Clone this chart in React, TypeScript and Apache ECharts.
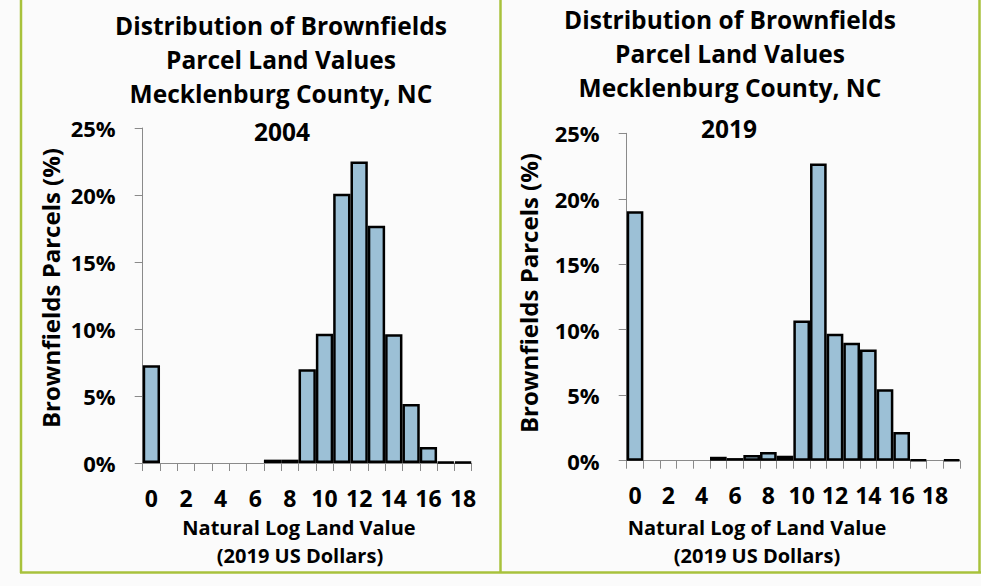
import React, { useEffect, useRef } from 'react';
import * as echarts from 'echarts';

// ---- data ----
const categories2004 = ['0','1','2','3','4','5','6','7','8','9','10','11','12','13','14','15','16','17','18'];
const values2004 = [7.3, 0, 0, 0, 0, 0, 0, 0.25, 0.25, 7.0, 9.65, 20.1, 22.5, 17.7, 9.6, 4.4, 1.2, 0.07, 0.07];
const categories2019 = ['0','1','2','3','4','5','6','7','8','9','10','11','12','13','14','15','16','17','18','19'];
const values2019 = [19.05, 0, 0, 0, 0, 0.3, 0.2, 0.43, 0.66, 0.38, 10.7, 22.7, 9.7, 9.0, 8.5, 5.45, 2.2, 0.05, 0, 0.08];
const titleLines = ['Distribution of Brownfields', 'Parcel Land Values', 'Mecklenburg County, NC'];
const year2004 = '2004';
const year2019 = '2019';
const yAxisTitle = 'Brownfields Parcels (%)';
const xAxisTitle2004 = ['Natural Log Land Value', '(2019 US Dollars)'];
const xAxisTitle2019 = ['Natural Log of Land Value', '(2019 US Dollars)'];
const yMin = 0;
const yMax = 25;
const yStep = 5;

const FONT = '"Open Sans"';
const BAR_FILL = '#9cc0d6';
const AXIS_GRAY = '#8a8a8a';
const FRAME = '#a8c23c';

export default function App() {
  const ref = useRef<HTMLDivElement>(null);
  useEffect(() => {
    document.body.style.margin = '0';
    if (!ref.current) return;
    const chart = echarts.init(ref.current, undefined, { renderer: 'svg' });

    const txt = (text: string, x: number, y: number, size: number, rotation = 0) => ({
      type: 'text',
      x, y, rotation,
      style: {
        text, fill: '#000', font: `bold ${size}px ${FONT}`,
        textAlign: 'center', textVerticalAlign: 'middle',
      },
    });

    const xAxis = (cats: string[], idx: number) => ({
      type: 'category', gridIndex: idx, data: cats,
      boundaryGap: true,
      axisLine: { lineStyle: { color: AXIS_GRAY, width: 1 } },
      axisTick: { show: true, interval: 0, length: 8, lineStyle: { color: AXIS_GRAY } },
      axisLabel: { interval: 1, margin: 23, color: '#000', fontFamily: 'Open Sans', fontWeight: 'bold', fontSize: 23 },
      splitLine: { show: false },
    });
    const yAxis = (idx: number) => ({
      type: 'value', gridIndex: idx, min: yMin, max: yMax, interval: yStep,
      axisLine: { show: true, lineStyle: { color: AXIS_GRAY, width: 1 } },
      axisTick: { show: true, length: 8, lineStyle: { color: AXIS_GRAY } },
      axisLabel: { formatter: '{value}%', margin: 27, color: '#000', fontFamily: 'Open Sans', fontWeight: 'bold', fontSize: 22 },
      splitLine: { show: false },
    });
    const bars = (vals: number[], idx: number) => ({
      type: 'bar', xAxisIndex: idx, yAxisIndex: idx,
      data: vals.map(v => (v === 0 ? '-' : v)),
      barCategoryGap: '0%',
      itemStyle: { color: BAR_FILL, borderColor: '#000', borderWidth: 2.5 },
      emphasis: { disabled: true },
    });

    const graphics: any[] = [];
    graphics.push({ type: 'line', shape: { x1: 21, y1: 0, x2: 21, y2: 573 }, style: { stroke: FRAME, lineWidth: 2.5 } });
    graphics.push({ type: 'line', shape: { x1: 500.5, y1: 0, x2: 500.5, y2: 573 }, style: { stroke: FRAME, lineWidth: 2.5 } });
    graphics.push({ type: 'line', shape: { x1: 979.5, y1: 0, x2: 979.5, y2: 573 }, style: { stroke: FRAME, lineWidth: 2.5 } });
    graphics.push({ type: 'line', shape: { x1: 20, y1: 572.5, x2: 981, y2: 572.5 }, style: { stroke: FRAME, lineWidth: 2.5 } });
    titleLines.forEach((t, i) => {
      graphics.push(txt(t, 281, 25 + i * 34, 24.5));
      graphics.push(txt(t, 730, 19 + i * 34, 24.5));
    });
    graphics.push(txt(year2004, 282, 131, 24.5));
    graphics.push(txt(year2019, 729, 128, 24.5));
    graphics.push(txt(yAxisTitle, 50, 288, 24, Math.PI / 2));
    graphics.push(txt(yAxisTitle, 528, 293, 24, Math.PI / 2));
    graphics.push(txt(xAxisTitle2004[0], 299, 527, 20));
    graphics.push(txt(xAxisTitle2004[1], 300, 555, 20));
    graphics.push(txt(xAxisTitle2019[0], 757, 527, 20));
    graphics.push(txt(xAxisTitle2019[1], 757, 555, 20));

    chart.setOption({
      animation: false,
      backgroundColor: '#fbfbfb',
      grid: [
        { left: 142.7, width: 329, top: 128, height: 335 },
        { left: 626.7, width: 333.3, top: 133.3, height: 327.4 },
      ],
      xAxis: [xAxis(categories2004, 0), xAxis(categories2019, 1)],
      yAxis: [yAxis(0), yAxis(1)],
      series: [bars(values2004, 0), bars(values2019, 1)],
      graphic: graphics,
    });
    return () => chart.dispose();
  }, []);
  return <div ref={ref} style={{ width: 981, height: 586 }} />;
}
